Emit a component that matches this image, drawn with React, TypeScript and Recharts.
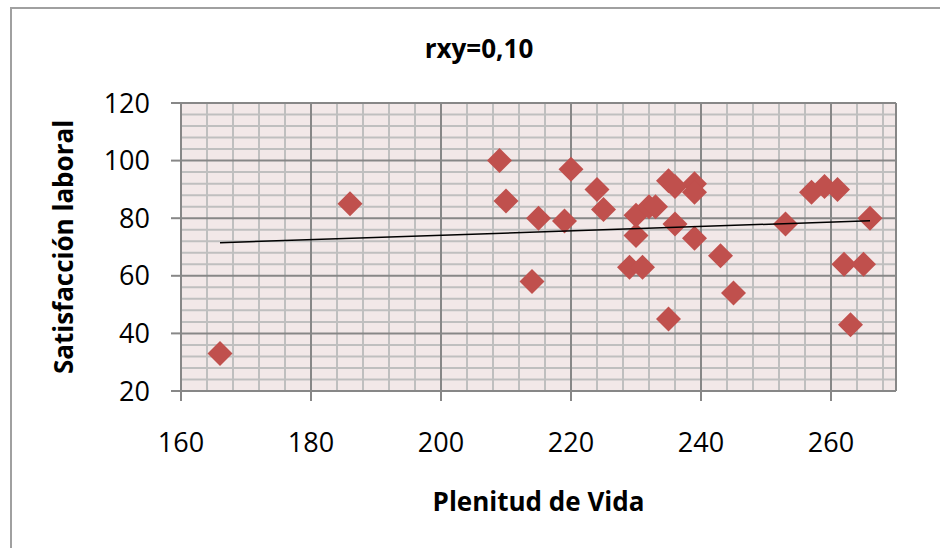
import React from 'react';
import { ScatterChart, Scatter, XAxis, YAxis, CartesianGrid } from 'recharts';

const plenitudDeVida = [166, 186, 209, 210, 214, 215, 219, 220, 224, 225, 229, 230, 230, 231, 232, 233, 235, 235, 236, 236, 239, 239, 239, 243, 245, 253, 257, 259, 261, 262, 263, 265, 266];
const satisfaccionLaboral = [33, 85, 100, 86, 58, 80, 79, 97, 90, 83, 63, 81, 74, 63, 84, 84, 93, 45, 91, 78, 92, 89, 73, 67, 54, 78, 89, 91, 90, 64, 43, 64, 80];

const trendX = [166, 266];
const trendY = [71.5, 79.1];

const xDomain = [160, 270];
const yDomain = [20, 120];
const xTicks = [160, 180, 200, 220, 240, 260];
const yTicks = [20, 40, 60, 80, 100, 120];
const xMinor = [164, 168, 172, 176, 184, 188, 192, 196, 204, 208, 212, 216, 224, 228, 232, 236, 244, 248, 252, 256, 264, 268];
const yMinor = [24, 28, 32, 36, 44, 48, 52, 56, 64, 68, 72, 76, 84, 88, 92, 96, 104, 108, 112, 116];

const title = 'rxy=0,10';
const xTitle = 'Plenitud de Vida';
const yTitle = 'Satisfacción laboral';

const points = plenitudDeVida.map((x, i) => ({ x, y: satisfaccionLaboral[i] }));
const trend = trendX.map((x, i) => ({ x, y: trendY[i] }));

const FONT = '"Open Sans", "Liberation Sans", sans-serif';
const MAJOR = '#878787';
const MINOR = '#bfbfbf';

const scaleX = (p: any, v: number) => {
  const s = p?.xAxis?.scale;
  if (typeof s === 'function') return s(v);
  if (s && typeof s.map === 'function') return s.map(v);
  const o = p.offset;
  return o.left + ((v - xDomain[0]) / (xDomain[1] - xDomain[0])) * o.width;
};
const scaleY = (p: any, v: number) => {
  const s = p?.yAxis?.scale;
  if (typeof s === 'function') return s(v);
  if (s && typeof s.map === 'function') return s.map(v);
  const o = p.offset;
  return o.top + ((yDomain[1] - v) / (yDomain[1] - yDomain[0])) * o.height;
};

const Diamond = (props: any) => {
  const { cx, cy } = props;
  const r = 12.5;
  return <path d={`M${cx},${cy - r}L${cx + r},${cy}L${cx},${cy + r}L${cx - r},${cy}Z`} fill="#c0504d" />;
};

const Empty = () => <g />;

const XTitle = (props: any) => {
  const vb = props.viewBox || {};
  return (
    <text x={vb.x + vb.width / 2} y={511} textAnchor="middle" fontFamily={FONT} fontWeight="bold" fontSize={26} fill="#000">
      {xTitle}
    </text>
  );
};

const YTitle = (props: any) => {
  const vb = props.viewBox || {};
  const cy = vb.y + vb.height / 2;
  return (
    <text x={73} y={cy} transform={`rotate(-90, 73, ${cy})`} textAnchor="middle" fontFamily={FONT} fontWeight="bold" fontSize={26} fill="#000">
      {yTitle}
    </text>
  );
};

export default function App() {
  return (
    <div style={{ position: 'absolute', left: 0, top: 0, width: 940, height: 548, background: '#fff', overflow: 'hidden' }}>
      <div style={{ position: 'absolute', left: 10, top: 7, width: 1000, height: 700, border: '2px solid #a0a0a0', boxSizing: 'border-box' }} />
      <svg style={{ position: 'absolute', left: 0, top: 0 }} width={940} height={80}>
        <text x={479} y={58} textAnchor="middle" fontFamily={FONT} fontWeight="bold" fontSize={26} fill="#000">
          {title}
        </text>
      </svg>
      <div style={{ position: 'absolute', left: 0, top: 0 }}>
        <ScatterChart width={940} height={548} margin={{ top: 103, right: 44, bottom: 97, left: 0 }}>
          <CartesianGrid
            fill="#f2e8e8"
            fillOpacity={1}
            stroke={MINOR}
            strokeWidth={2}
            verticalCoordinatesGenerator={(p: any) => xMinor.map((v) => scaleX(p, v))}
            horizontalCoordinatesGenerator={(p: any) => yMinor.map((v) => scaleY(p, v))}
          />
          <CartesianGrid stroke={MAJOR} strokeWidth={2} fill="none" />
          <XAxis
            type="number"
            dataKey="x"
            domain={xDomain}
            ticks={xTicks}
            allowDataOverflow
            height={60}
            tickSize={10}
            tickMargin={32}
            axisLine={{ stroke: MAJOR, strokeWidth: 2 }}
            tickLine={{ stroke: MAJOR, strokeWidth: 2 }}
            tick={{ fill: '#000', fontSize: 27, fontFamily: FONT }}
            label={<XTitle />}
          />
          <YAxis
            type="number"
            dataKey="y"
            domain={yDomain}
            ticks={yTicks}
            allowDataOverflow
            width={181}
            tickSize={10}
            tickMargin={21}
            axisLine={{ stroke: MAJOR, strokeWidth: 2 }}
            tickLine={{ stroke: MAJOR, strokeWidth: 2 }}
            tick={{ fill: '#000', fontSize: 27, fontFamily: FONT }}
            label={<YTitle />}
          />
          <Scatter data={points} shape={<Diamond />} isAnimationActive={false} />
          <Scatter data={trend} shape={<Empty />} line={{ stroke: '#000', strokeWidth: 1.5 }} isAnimationActive={false} />
        </ScatterChart>
      </div>
    </div>
  );
}
